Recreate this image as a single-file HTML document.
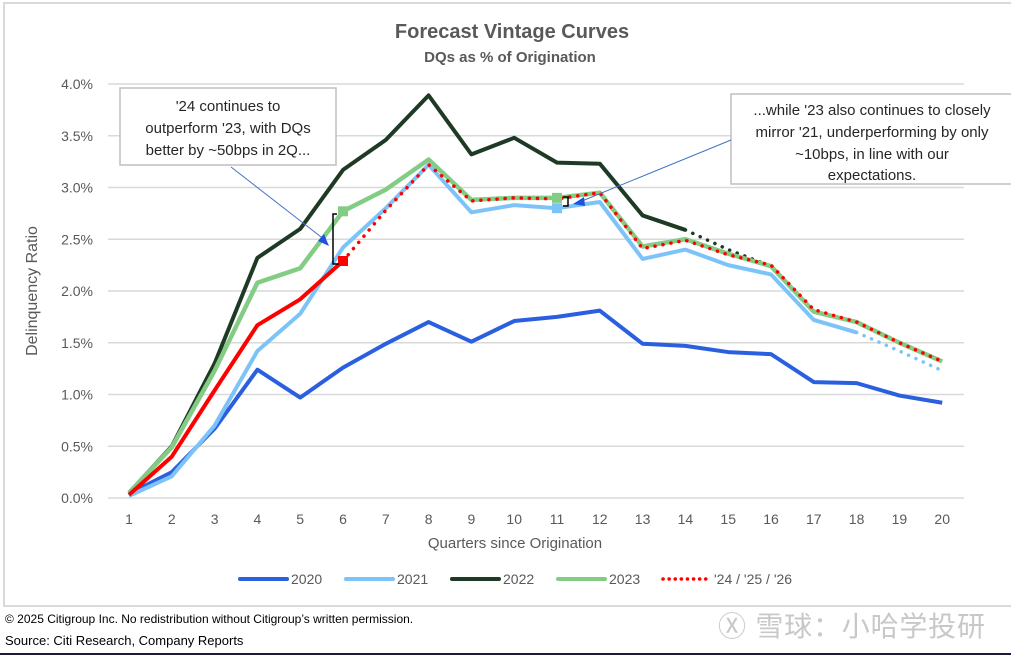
<!DOCTYPE html>
<html><head><meta charset="utf-8"><style>
body{margin:0;width:1011px;height:655px;background:#fff;overflow:hidden;font-family:"Liberation Sans",sans-serif}
svg{position:absolute;left:0;top:0}
</style></head><body>
<svg width="1011" height="655" xmlns="http://www.w3.org/2000/svg">
<rect x="4" y="3" width="1020" height="603" fill="#fff" stroke="#d9d9d9" stroke-width="2"/>
<text x="512" y="38" text-anchor="middle" font-size="20" font-weight="bold" fill="#595959">Forecast Vintage Curves</text>
<text x="510" y="62" text-anchor="middle" font-size="15" font-weight="bold" fill="#595959">DQs as % of Origination</text>
<g id="grid"></g>
<g id="ylab"></g>
<g id="xlab"></g>
<text transform="translate(37,291) rotate(-90)" text-anchor="middle" font-size="16" fill="#595959">Delinquency Ratio</text>
<text x="515" y="548" text-anchor="middle" font-size="15" fill="#595959">Quarters since Origination</text>
<g id="series"></g>
<g>
<rect x="120" y="88" width="216" height="77" fill="#fff" stroke="#bfbfbf" stroke-width="1.5"/>
<text font-size="15" fill="#262626" text-anchor="middle"><tspan x="228" y="111">'24 continues to</tspan><tspan x="228" y="133">outperform '23, with DQs</tspan><tspan x="228" y="155">better by ~50bps in 2Q...</tspan></text>
<line x1="231" y1="167" x2="325" y2="240" stroke="#4472c4" stroke-width="1"/>
<polygon points="329,246 318,241 324,234" fill="#2050e0"/>
<path d="M337,214 L333,214 L333,264 L339,264" fill="none" stroke="#000" stroke-width="1.5"/>
</g>
<g>
<rect x="731" y="94" width="290" height="90" fill="#fff" stroke="#bfbfbf" stroke-width="1.5"/>
<text font-size="15" fill="#262626" text-anchor="middle"><tspan x="872" y="115">...while '23 also continues to closely</tspan><tspan x="872" y="137">mirror '21, underperforming by only</tspan><tspan x="872" y="159">~10bps, in line with our</tspan><tspan x="872" y="180">expectations.</tspan></text>
<line x1="731" y1="140" x2="582" y2="201" stroke="#4472c4" stroke-width="1"/>
<polygon points="573,204 584,197 585,206" fill="#2050e0"/>
<path d="M563,197 L568,197 L568,206 L563,206" fill="none" stroke="#000" stroke-width="1.5"/>
</g>
<g id="legend"></g>
<text x="5" y="623" font-size="12" fill="#000">© 2025 Citigroup Inc. No redistribution without Citigroup’s written permission.</text>
<text x="5" y="645" font-size="13" fill="#000">Source: Citi Research, Company Reports</text>
<text x="718" y="636" font-size="28" fill="#c8c8c8" textLength="267" font-family="Liberation Sans,Noto Sans CJK SC,sans-serif">Ⓧ 雪球：小哈学投研</text>
<line x1="0" y1="654" x2="1011" y2="654" stroke="#1a1a3a" stroke-width="2"/>
</svg>
<script>
const quarters=[1,2,3,4,5,6,7,8,9,10,11,12,13,14,15,16,17,18,19,20];
const yTicks=[0,0.5,1,1.5,2,2.5,3,3.5,4];
const s2020=[0.04,0.25,0.67,1.24,0.97,1.26,1.49,1.70,1.51,1.71,1.75,1.81,1.49,1.47,1.41,1.39,1.12,1.11,0.99,0.92];
const s2021=[0.02,0.21,0.70,1.42,1.78,2.42,2.80,3.22,2.76,2.83,2.80,2.86,2.31,2.40,2.25,2.16,1.72,1.60];
const s2021f=[null,null,null,null,null,null,null,null,null,null,null,null,null,null,null,null,null,1.60,1.42,1.23];
const s2022=[0.05,0.50,1.30,2.32,2.60,3.17,3.46,3.89,3.32,3.48,3.24,3.23,2.73,2.59];
const s2022f=[null,null,null,null,null,null,null,null,null,null,null,null,null,2.59,2.40,2.24];
const s2023=[0.05,0.49,1.23,2.08,2.22,2.77,2.98,3.27,2.88,2.90,2.90,2.95,2.43,2.50,2.36,2.24,1.80,1.70,1.50,1.32];
const s24=[0.03,0.40,1.04,1.67,1.92,2.29];
const s24f=[null,null,null,null,null,2.29,2.78,3.22,2.87,2.90,2.89,2.95,2.41,2.49,2.35,2.25,1.82,1.70,1.50,1.32];
const NS="http://www.w3.org/2000/svg";
const xs=q=>129+(q-1)*42.8;
const ys=v=>498-v*103.5;
function mk(t,a,p){const e=document.createElementNS(NS,t);for(const k in a)e.setAttribute(k,a[k]);(p||document.getElementById('series')).appendChild(e);return e;}
const grid=document.getElementById('grid'),yl=document.getElementById('ylab'),xl=document.getElementById('xlab');
yTicks.forEach(v=>{
 const l=mk('line',{x1:108,x2:964,y1:ys(v),y2:ys(v),stroke:'#d9d9d9','stroke-width':1.5},grid);
 
 
 const t=mk('text',{x:93,y:ys(v)+5,'text-anchor':'end','font-size':14,fill:'#595959'},yl);
 t.textContent=v.toFixed(1)+'%';
 
 
});
quarters.forEach(q=>{
 const t=mk('text',{x:xs(q),y:524,'text-anchor':'middle','font-size':14,fill:'#595959'},xl);
 t.textContent=q;
 
 
});
function line(arr,color,w,dash,name){
 let d='';arr.forEach((v,i)=>{if(v==null)return;d+=(d?'L':'M')+xs(quarters[i])+','+ys(v);});
 const p=mk('path',{d:d,fill:'none',stroke:color,'stroke-width':w,'stroke-linejoin':'round','stroke-linecap':dash?'round':'butt'});
 if(dash)p.setAttribute('stroke-dasharray',dash);
 
 
}
line(s2020,'#2a5fe0',4,null,'line-2020');
line(s2021,'#7cc4f8',4,null,'line-2021');
line(s2021f,'#7cc4f8',3.5,'0.1 8','line-2021-forecast');
line(s2022,'#1e3a24',4,null,'line-2022');
line(s2022f,'#1e3a24',3.5,'0.1 8','line-2022-forecast');
line(s2023,'#82cc84',4.5,null,'line-2023');
line(s24,'#ff0000',4,null,'line-24');
line(s24f,'#ff0000',3.5,'0.1 8','line-24-forecast');
function sq(q,v,c,n){const r=mk('rect',{x:xs(q)-5,y:ys(v)-5,width:10,height:10,fill:c});}
sq(6,s2023[5],'#82cc84','marker-2023-q6');
sq(6,s24[5],'#ff0000','marker-24-q6');
sq(11,s2023[10],'#82cc84','marker-2023-q11');
sq(11,s2021[10],'#7cc4f8','marker-2021-q11');
const lg=document.getElementById('legend');
const legItems=[['2020','#2a5fe0',null],['2021','#7cc4f8',null],['2022','#1e3a24',null],['2023','#82cc84',null],["'24 / '25 / '26",'#ff0000','0.1 6']];
legItems.forEach((it,i)=>{
 const g=mk('g',{},lg);
 
 
 const base=[240,346,452,558,663][i];
 const l=mk('line',{x1:base,x2:base+47,y1:579,y2:579,stroke:it[1],'stroke-width':it[2]?3.5:4,'stroke-linecap':'round'},g);
 if(it[2])l.setAttribute('stroke-dasharray',it[2]);
 const t=mk('text',{x:base+51,y:584,'font-size':14,fill:'#595959'},g);
 t.textContent=it[0];
});
</script>
</body></html>
